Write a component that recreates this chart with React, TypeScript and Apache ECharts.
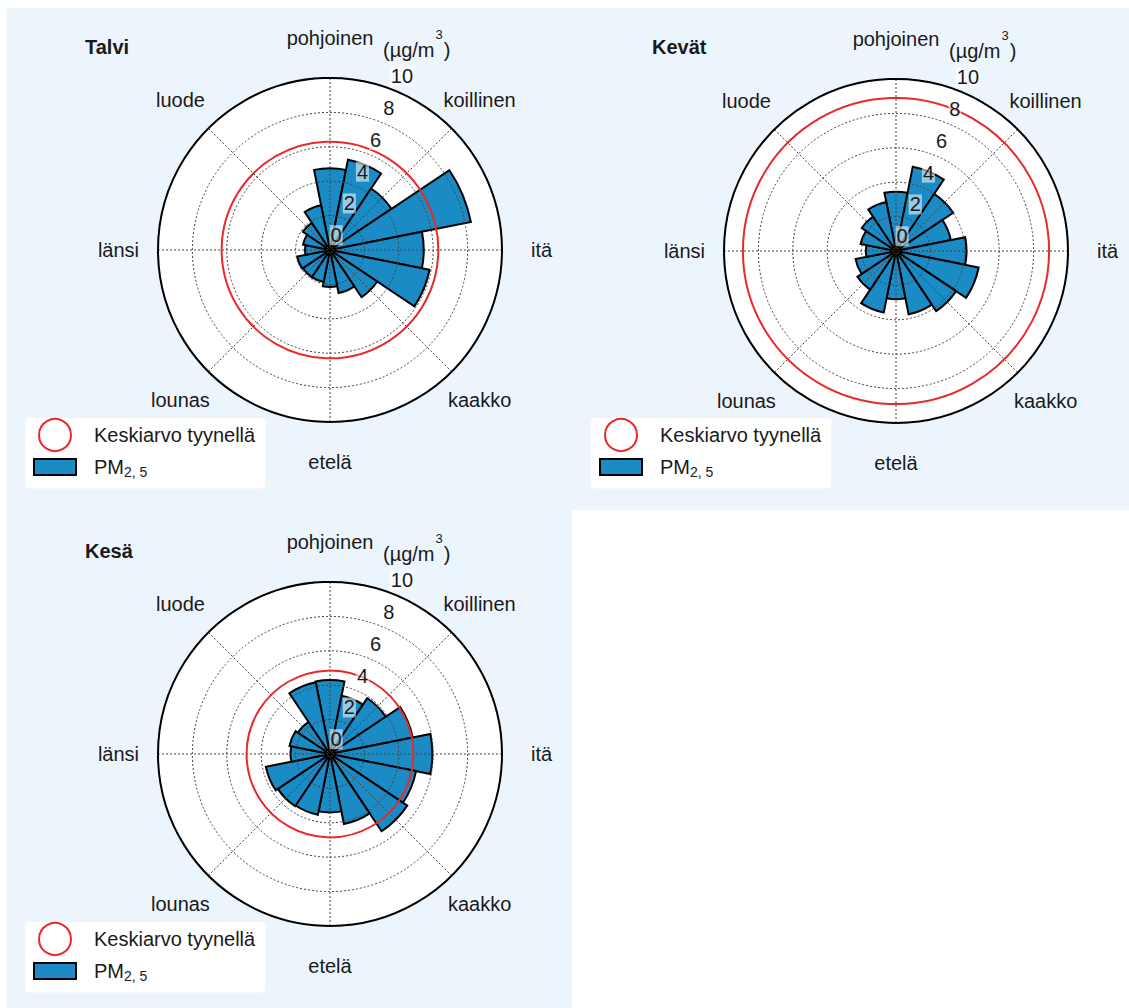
import React, { useEffect, useRef } from "react";
import * as echarts from "echarts";

// ---------- data ----------
const DIRECTIONS = ["N", "NNE", "NE", "ENE", "E", "ESE", "SE", "SSE", "S", "SSW", "SW", "WSW", "W", "WNW", "NW", "NNW"];
const TALVI = [4.75, 5.35, 4.3, 8.35, 5.45, 5.9, 3.3, 2.55, 2.15, 1.9, 1.9, 1.95, 1.45, 1.6, 1.9, 2.65];
const KEVAT = [3.45, 5.0, 4.0, 3.25, 4.1, 4.9, 4.2, 3.75, 2.8, 3.65, 2.7, 2.4, 1.75, 2.1, 2.4, 2.9];
const KESA = [4.3, 3.45, 3.9, 4.9, 5.95, 5.1, 5.4, 4.15, 3.4, 3.6, 3.65, 3.8, 2.3, 2.4, 2.25, 4.25];
const CALM = [6.3, 8.9, 4.85];
const SEASONS = ["Talvi", "Kevät", "Kesä"];
const COMPASS_ANGLES = [0, 45, 90, 135, 180, 225, 270, 315];
const COMPASS_LABELS = ["pohjoinen", "koillinen", "itä", "kaakko", "etelä", "lounas", "länsi", "luode"];
const RADIUS_MAX = 10;
const RADIUS_STEP = 2;
const CALM_NAME = "Keskiarvo tyynellä";
const PM_NAME = "PM2,5";

// ---------- layout / style ----------
const SEASON_VALUES = [TALVI, KEVAT, KESA];
const CENTERS = [[330, 250], [896, 251], [330, 754]];
const R = 172;
const LABEL_R = 12.3;
const TITLE_POS = [[85, 37], [652, 37], [85, 541]];
const LEGEND_POS = [[25, 418], [591, 418], [25, 922]];
const UNIT_POS = [[383, 26], [949, 27], [383, 530]];
const BLUE = "#1a8bc4";
const RED = "#e8282b";
const BG = "#edf5fc";
const TEXT = "#1a1a1a";
const GRID = "#444";
const FONT = "'Liberation Sans', Arial, Helvetica, sans-serif";

function buildOption() {
  const polar: any[] = [];
  const angleAxis: any[] = [];
  const radiusAxis: any[] = [];
  const series: any[] = [];
  const legend: any[] = [];
  const title: any[] = [];
  const graphic: any[] = [
    { type: "rect", shape: { x: 0, y: 0, width: 1129, height: 8 }, style: { fill: "#fff" }, silent: true },
    { type: "rect", shape: { x: 0, y: 0, width: 7, height: 1008 }, style: { fill: "#fff" }, silent: true },
    { type: "rect", shape: { x: 572, y: 510, width: 557, height: 498 }, style: { fill: "#fff" }, silent: true },
  ];

  SEASONS.forEach((season, i) => {
    const center = CENTERS[i];
    const pBar = 3 * i;
    const pGrid = 3 * i + 1;
    const pLab = 3 * i + 2;
    polar.push({ center, radius: R });
    polar.push({ center, radius: R });
    polar.push({ center, radius: [16, R + 16] });

    angleAxis.push({
      polarIndex: pBar,
      type: "category",
      data: DIRECTIONS,
      startAngle: 90 + 360 / DIRECTIONS.length / 2,
      clockwise: true,
      boundaryGap: true,
      axisLine: { show: false },
      axisTick: { show: false },
      axisLabel: { show: false },
      splitLine: { show: false },
      splitArea: { show: true, areaStyle: { color: ["#ffffff"] } },
      z: 0,
    });
    angleAxis.push({
      polarIndex: pGrid,
      type: "value",
      min: 0,
      max: 360,
      interval: 45,
      startAngle: 90,
      clockwise: true,
      axisLine: { show: true, lineStyle: { color: "#000", width: 2 } },
      axisTick: { show: false },
      axisLabel: { show: false },
      splitLine: { show: true, lineStyle: { color: GRID, type: [2, 2], width: 1 } },
      z: 5,
    });
    angleAxis.push({
      polarIndex: pLab,
      type: "value",
      min: 0,
      max: 360,
      startAngle: 67.5,
      clockwise: true,
      show: false,
    });

    radiusAxis.push({
      polarIndex: pBar,
      type: "value",
      min: 0,
      max: RADIUS_MAX,
      axisLine: { show: false },
      axisTick: { show: false },
      axisLabel: { show: false },
      splitLine: { show: false },
    });
    radiusAxis.push({
      polarIndex: pGrid,
      type: "value",
      min: 0,
      max: RADIUS_MAX,
      interval: RADIUS_STEP,
      axisLine: { show: false },
      axisTick: { show: false },
      axisLabel: { show: false },
      splitLine: { show: true, lineStyle: { color: GRID, type: [2, 2], width: 1 } },
      z: 5,
    });
    radiusAxis.push({
      polarIndex: pLab,
      type: "value",
      min: 0,
      max: RADIUS_MAX,
      interval: RADIUS_STEP,
      axisLine: { show: false },
      axisTick: { show: false },
      splitLine: { show: false },
      axisLabel: {
        show: true,
        margin: 0,
        align: "center",
        verticalAlign: "middle",
        fontSize: 20,
        color: TEXT,
        fontFamily: FONT,
        backgroundColor: "rgba(255,255,255,0.55)",
        padding: [0, 1],
      },
      z: 10,
    });

    series.push({
      type: "bar",
      name: PM_NAME,
      coordinateSystem: "polar",
      polarIndex: pBar,
      data: SEASON_VALUES[i],
      barCategoryGap: "0%",
      itemStyle: { color: BLUE, borderColor: "#000", borderWidth: 2 },
      z: 2,
    });
    series.push({
      type: "custom",
      name: CALM_NAME,
      coordinateSystem: "polar",
      polarIndex: pGrid,
      data: [[CALM[i], 0]],
      encode: { radius: 0, angle: 1 },
      itemStyle: { color: "rgba(0,0,0,0)", borderColor: RED, borderWidth: 2 },
      renderItem: (params: any, api: any) => {
        const cs = params.coordSys;
        const p = api.coord([api.value(0), api.value(1)]);
        const r = Math.hypot(p[0] - cs.cx, p[1] - cs.cy);
        return {
          type: "circle",
          shape: { cx: cs.cx, cy: cs.cy, r },
          style: { fill: "none", stroke: RED, lineWidth: 2 },
          silent: true,
        };
      },
      z: 6,
    });
    series.push({
      type: "scatter",
      coordinateSystem: "polar",
      polarIndex: pGrid,
      data: COMPASS_ANGLES.map((a) => [LABEL_R, a]),
      symbolSize: 1,
      clip: false,
      silent: true,
      itemStyle: { color: "rgba(0,0,0,0)" },
      label: {
        show: true,
        position: "inside",
        formatter: (p: any) => COMPASS_LABELS[p.dataIndex],
        fontSize: 20,
        color: TEXT,
        opacity: 1,
        textBorderWidth: 0,
        textBorderColor: "transparent",
        fontFamily: FONT,
      },
      z: 7,
    });

    legend.push({
      left: LEGEND_POS[i][0],
      top: LEGEND_POS[i][1],
      orient: "vertical",
      selectedMode: false,
      backgroundColor: "#fff",
      borderRadius: 4,
      padding: [0, 10, 10, 8],
      itemWidth: 42,
      itemHeight: 32,
      itemGap: 5,
      data: [
        {
          name: CALM_NAME,
          icon: "circle",
          itemStyle: { color: "rgba(0,0,0,0)", borderColor: RED, borderWidth: 2 },
        },
        {
          name: PM_NAME,
          icon: "path://M0,0h42v16h-42z",
          itemStyle: { color: BLUE, borderColor: "#000", borderWidth: 2 },
        },
      ],
      formatter: (name: string) => (name === PM_NAME ? "{a|PM}{s|2, 5}" : "{a|" + name + "}"),
      textStyle: {
        fontFamily: FONT,
        color: TEXT,
        rich: {
          a: { fontSize: 20, color: TEXT, fontFamily: FONT, padding: [0, 0, 0, 13] },
          s: { fontSize: 14, color: TEXT, fontFamily: FONT, verticalAlign: "bottom", padding: [9, 0, 0, 0] },
        },
      },
    });

    title.push({
      text: season,
      left: TITLE_POS[i][0],
      top: TITLE_POS[i][1],
      padding: 0,
      textStyle: { fontSize: 20, fontWeight: "bold", color: TEXT, fontFamily: FONT },
    });

    graphic.push({
      type: "text",
      x: UNIT_POS[i][0],
      y: UNIT_POS[i][1],
      silent: true,
      style: {
        text: "{n|(µg/m}{s|3}{n|)}",
        fill: TEXT,
        font: "20px " + FONT,
        rich: {
          n: { fontSize: 20, fill: TEXT, fontFamily: FONT, padding: [14, 0, 0, 0] },
          s: { fontSize: 13, fill: TEXT, fontFamily: FONT, verticalAlign: "top", padding: [2, 1, 0, 1] },
        },
      },
    });
  });

  return {
    animation: false,
    backgroundColor: BG,
    textStyle: { fontFamily: FONT },
    title,
    legend,
    polar,
    angleAxis,
    radiusAxis,
    series,
    graphic,
  };
}

export default function App() {
  const ref = useRef<HTMLDivElement>(null);
  useEffect(() => {
    document.body.style.margin = "0";
    if (!ref.current) return;
    const chart = echarts.init(ref.current, undefined, { renderer: "svg" });
    chart.setOption(buildOption() as any);
    return () => chart.dispose();
  }, []);
  return <div ref={ref} style={{ width: 1129, height: 1008 }} />;
}
